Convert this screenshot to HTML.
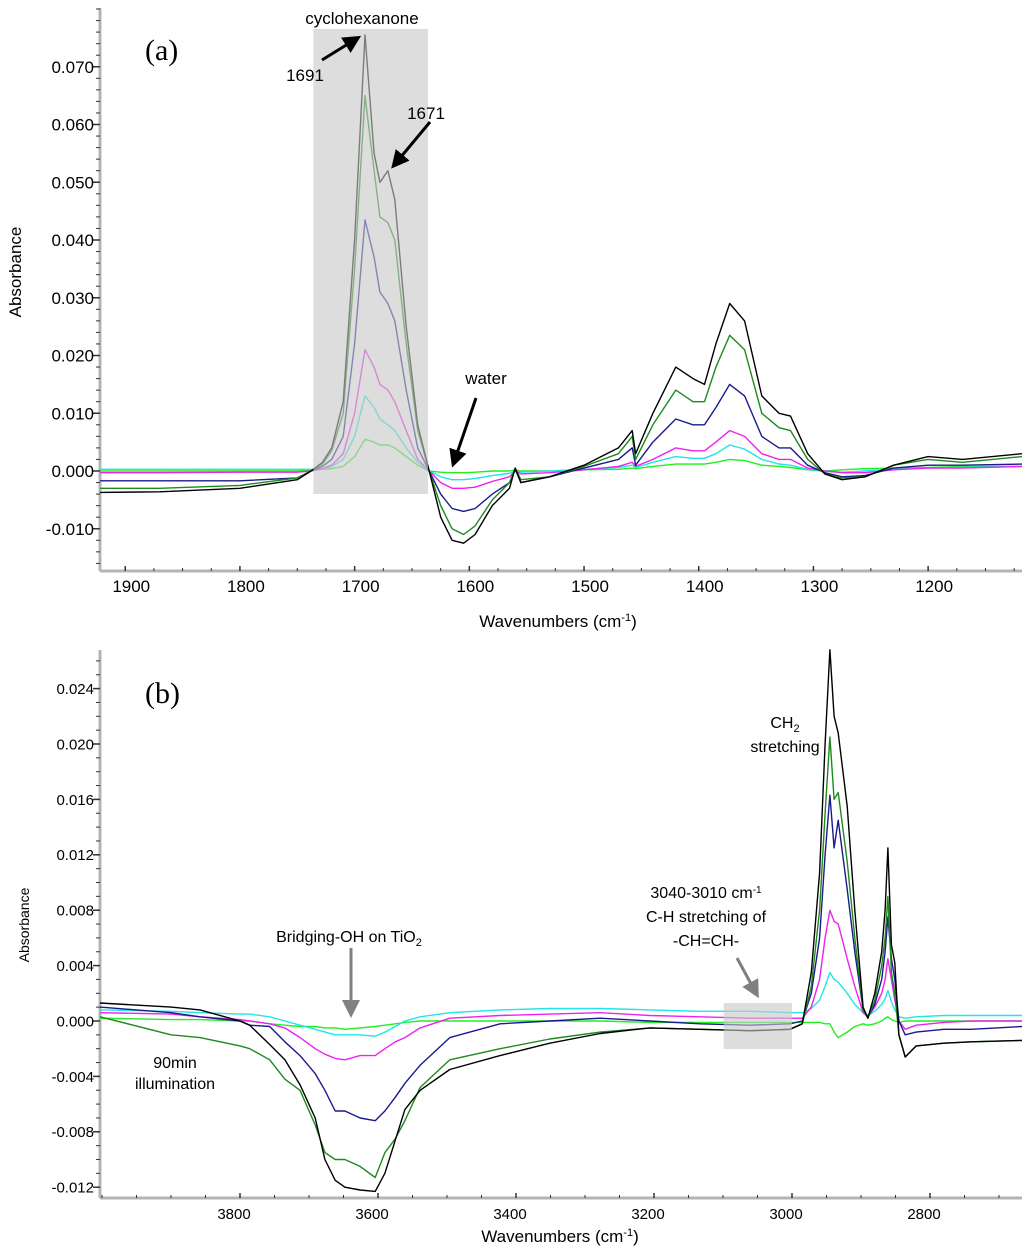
<!DOCTYPE html>
<html><head><meta charset="utf-8">
<style>
html,body{margin:0;padding:0;background:#fff;}
svg{display:block;font-family:"Liberation Sans",Arial,sans-serif;}
</style></head>
<body>
<svg id="chart" width="1024" height="1254" viewBox="0 0 1024 1254" xmlns="http://www.w3.org/2000/svg">
<defs>
<marker id="ah" markerWidth="6" markerHeight="6" refX="4" refY="3" orient="auto" markerUnits="strokeWidth"><path d="M0,0 L6,3 L0,6 z" fill="#000"/></marker>
<marker id="ahg" markerWidth="6" markerHeight="6" refX="4" refY="3" orient="auto" markerUnits="strokeWidth"><path d="M0,0 L6,3 L0,6 z" fill="#808080"/></marker>
</defs>
<g id="panelA"></g>
<g id="panelB"></g>

<!-- Panel a annotations -->
<text x="145" y="60" font-family="Liberation Serif, serif" font-size="30">(a)</text>
<text x="362" y="24" font-size="17" text-anchor="middle">cyclohexanone</text>
<text x="305" y="81" font-size="17" text-anchor="middle">1691</text>
<line x1="322" y1="60" x2="356" y2="39" stroke="#000" stroke-width="3" marker-end="url(#ah)"/>
<text x="426" y="119" font-size="17" text-anchor="middle">1671</text>
<line x1="430" y1="122" x2="395" y2="164" stroke="#000" stroke-width="3" marker-end="url(#ah)"/>
<text x="486" y="384" font-size="17" text-anchor="middle">water</text>
<line x1="476" y1="398" x2="454" y2="462" stroke="#000" stroke-width="3" marker-end="url(#ah)"/>
<text transform="translate(21,272) rotate(-90)" font-size="17" text-anchor="middle">Absorbance</text>
<text x="558" y="627" font-size="17" text-anchor="middle">Wavenumbers (cm<tspan baseline-shift="super" font-size="11">-1</tspan>)</text>

<!-- Panel b annotations -->
<text x="145" y="703" font-family="Liberation Serif, serif" font-size="30">(b)</text>
<text x="785" y="728" font-size="16" text-anchor="middle">CH<tspan font-size="11" dy="4">2</tspan></text>
<text x="785" y="752" font-size="16" text-anchor="middle">stretching</text>
<text x="706" y="898" font-size="16" text-anchor="middle">3040-3010 cm<tspan baseline-shift="super" font-size="10">-1</tspan></text>
<text x="706" y="922" font-size="16" text-anchor="middle">C-H stretching of</text>
<text x="706" y="946" font-size="16" text-anchor="middle">-CH=CH-</text>
<line x1="737" y1="958" x2="756" y2="993" stroke="#808080" stroke-width="3" marker-end="url(#ahg)"/>
<text x="349" y="942" font-size="16" text-anchor="middle">Bridging-OH on TiO<tspan font-size="11" dy="4">2</tspan></text>
<line x1="351" y1="948" x2="351" y2="1012" stroke="#808080" stroke-width="3" marker-end="url(#ahg)"/>
<text x="175" y="1068" font-size="16" text-anchor="middle">90min</text>
<text x="175" y="1089" font-size="16" text-anchor="middle">illumination</text>
<text transform="translate(29,925) rotate(-90)" font-size="14" text-anchor="middle">Absorbance</text>
<text x="560" y="1242" font-size="17" text-anchor="middle">Wavenumbers (cm<tspan baseline-shift="super" font-size="11">-1</tspan>)</text>
</svg>

<script>
// ---------- Panel (a) data ----------
const aWavenumbers = [1927,1870,1800,1750,1738,1728,1720,1710,1700,1691,1683,1678,1671,1665,1655,1645,1635,1625,1615,1605,1595,1580,1565,1560,1555,1530,1500,1470,1458,1455,1440,1420,1405,1395,1385,1373,1360,1345,1330,1320,1305,1290,1275,1255,1230,1200,1170,1110];
const aBlack = [-0.0037,-0.0036,-0.003,-0.0015,0.0,0.0015,0.004,0.012,0.040,0.0755,0.055,0.050,0.052,0.047,0.025,0.008,0.000,-0.008,-0.012,-0.0125,-0.011,-0.006,-0.003,0.0005,-0.002,-0.001,0.001,0.004,0.007,0.003,0.010,0.018,0.016,0.015,0.022,0.029,0.026,0.013,0.010,0.0095,0.003,-0.0005,-0.0015,-0.001,0.001,0.0025,0.002,0.003];
const aGreen = [-0.003,-0.003,-0.0025,-0.0012,0.0,0.0012,0.0035,0.010,0.035,0.065,0.052,0.044,0.043,0.040,0.022,0.007,0.000,-0.006,-0.010,-0.011,-0.0095,-0.005,-0.002,0.0005,-0.0015,-0.001,0.0008,0.003,0.006,0.002,0.008,0.014,0.012,0.012,0.018,0.0235,0.021,0.010,0.0075,0.007,0.002,-0.0005,-0.0012,-0.001,0.001,0.002,0.0015,0.0025];
const aNavy = [-0.0017,-0.0017,-0.0017,-0.0012,0.0,0.0008,0.002,0.006,0.022,0.0435,0.037,0.031,0.029,0.026,0.014,0.004,0.000,-0.004,-0.0065,-0.007,-0.0065,-0.004,-0.002,0.0003,-0.002,-0.001,0.0005,0.002,0.004,0.001,0.005,0.009,0.008,0.008,0.011,0.015,0.013,0.006,0.004,0.004,0.001,-0.0003,-0.001,-0.0008,0.0005,0.001,0.001,0.0012];
const aMagenta = [-0.0003,-0.0003,-0.0002,-0.0002,0.0,0.0004,0.001,0.003,0.010,0.021,0.018,0.015,0.014,0.012,0.007,0.002,0.000,-0.002,-0.003,-0.003,-0.0028,-0.0018,-0.001,0.0,-0.0005,-0.0003,0.0002,0.0008,0.0015,0.0008,0.002,0.004,0.0035,0.0035,0.005,0.007,0.006,0.003,0.002,0.002,0.0005,0.0,-0.0003,-0.0003,0.0002,0.0005,0.0005,0.0008];
const aCyan = [0.0003,0.0003,0.0003,0.0003,0.0003,0.0004,0.0008,0.002,0.006,0.013,0.011,0.009,0.008,0.007,0.004,0.0015,0.000,-0.001,-0.0015,-0.0015,-0.0013,-0.0008,-0.0004,0.0,-0.0002,0.0,0.0003,0.0006,0.001,0.0006,0.0015,0.0025,0.0022,0.0022,0.003,0.0045,0.0038,0.002,0.0012,0.001,0.0003,0.0,-0.0002,0.0,0.0003,0.0005,0.0006,0.0008];
const aLime = [0.0,0.0,0.0,0.0,0.0002,0.0003,0.0004,0.0008,0.0025,0.0055,0.005,0.0045,0.0045,0.004,0.0025,0.001,0.000,-0.0002,-0.0003,-0.0003,-0.0002,0.0,0.0,0.0002,0.0,0.0,0.0002,0.0003,0.0005,0.0004,0.0008,0.0012,0.0012,0.0012,0.0015,0.002,0.0018,0.001,0.0008,0.0006,0.0002,0.0,0.0002,0.0004,0.0005,0.0006,0.0008,0.0008];
const aXTicks = [1900,1800,1700,1600,1500,1400,1300,1200];
const aYTicks = [0.070,0.060,0.050,0.040,0.030,0.020,0.010,0.000,-0.010];
const aYTickLabels = ["0.070","0.060","0.050","0.040","0.030","0.020","0.010","0.000","-0.010"];

// ---------- Panel (b) data ----------
const bWavenumbers = [4003,3900,3858,3800,3786,3757,3735,3713,3691,3677,3662,3648,3626,3604,3590,3575,3561,3539,3496,3423,3351,3278,3206,3133,3061,3003,2985,2972,2960,2952,2945,2939,2933,2920,2909,2897,2890,2880,2870,2865,2861,2856,2851,2845,2836,2820,2780,2740,2664];
const bBlack = [0.0013,0.001,0.0008,0.0,-0.0003,-0.0017,-0.0028,-0.0046,-0.007,-0.010,-0.0115,-0.012,-0.0122,-0.0123,-0.011,-0.0086,-0.0064,-0.005,-0.0035,-0.0025,-0.0016,-0.0009,-0.0005,-0.0006,-0.0007,-0.0006,-0.0002,0.0035,0.0107,0.020,0.0268,0.022,0.0208,0.0155,0.008,0.001,0.0002,0.002,0.005,0.008,0.0125,0.0055,0.0042,-0.001,-0.0026,-0.0018,-0.0016,-0.0015,-0.0014];
const bGreen = [0.0003,-0.001,-0.0012,-0.0018,-0.002,-0.0028,-0.0042,-0.005,-0.0075,-0.0095,-0.010,-0.010,-0.0105,-0.0113,-0.0095,-0.0085,-0.0072,-0.0048,-0.0028,-0.002,-0.0013,-0.0008,-0.0005,-0.0006,-0.0007,-0.0006,-0.0002,0.0025,0.008,0.015,0.0205,0.016,0.0165,0.0115,0.006,0.0008,0.0002,0.0015,0.004,0.006,0.009,0.0035,0.002,-0.001,-0.0026,-0.0018,-0.0016,-0.0015,-0.0014];
const bNavy = [0.001,0.0006,0.0003,0.0,-0.0003,-0.0004,-0.0015,-0.0025,-0.0038,-0.005,-0.0065,-0.0065,-0.007,-0.0072,-0.0065,-0.0055,-0.0045,-0.0032,-0.0012,-0.0002,0.0,0.0002,0.0,-0.0002,-0.0003,-0.0002,0.0,0.002,0.006,0.012,0.0163,0.0125,0.0145,0.0095,0.005,0.0008,0.0003,0.0012,0.003,0.005,0.0075,0.0045,0.003,0.0,-0.001,-0.0008,-0.0006,-0.0006,-0.0004];
const bMagenta = [0.0006,0.0005,0.0003,0.0001,0.0,-0.0002,-0.0005,-0.0012,-0.002,-0.0024,-0.0027,-0.0028,-0.0025,-0.0025,-0.002,-0.0015,-0.0012,-0.0005,0.0002,0.0004,0.0005,0.0006,0.0004,0.0003,0.0002,0.0002,0.0002,0.001,0.003,0.006,0.008,0.0072,0.007,0.0045,0.0025,0.0006,0.0003,0.001,0.002,0.003,0.0045,0.003,0.0015,0.0,-0.0006,-0.0003,-0.0001,0.0,0.0];
const bCyan = [0.0008,0.0007,0.0006,0.0005,0.0005,0.0003,0.0,-0.0003,-0.0006,-0.0008,-0.001,-0.001,-0.001,-0.0011,-0.0008,-0.0004,0.0,0.0003,0.0006,0.0008,0.0009,0.0009,0.0008,0.0007,0.0007,0.0006,0.0006,0.0009,0.0015,0.0025,0.0035,0.003,0.0028,0.002,0.0012,0.0006,0.0004,0.0007,0.0012,0.0016,0.0022,0.0014,0.0008,0.0003,0.0002,0.0003,0.0004,0.0004,0.0004];
const bLime = [0.0002,0.0001,0.0001,0.0,0.0,-0.0002,-0.0003,-0.0004,-0.0004,-0.0005,-0.0005,-0.0006,-0.0005,-0.0004,-0.0003,-0.0002,-0.0001,0.0,0.0,0.0,0.0,0.0,-0.0001,-0.0001,-0.0001,-0.0001,-0.0001,-0.0001,-0.0001,-0.0002,-0.0002,-0.0008,-0.0012,-0.0008,-0.0004,-0.0002,-0.0003,-0.0002,0.0,0.0002,0.0003,0.0001,0.0,-0.0001,0.0,0.0,0.0,0.0,0.0];
const bXTicks = [3800,3600,3400,3200,3000,2800];
const bYTicks = [0.024,0.020,0.016,0.012,0.008,0.004,0.000,-0.004,-0.008,-0.012];
const bYTickLabels = ["0.024","0.020","0.016","0.012","0.008","0.004","0.000","-0.004","-0.008","-0.012"];

const NS = "http://www.w3.org/2000/svg";
function mk(tag, attrs, parent) {
  const e = document.createElementNS(NS, tag);
  for (const k in attrs) e.setAttribute(k, attrs[k]);
  parent.appendChild(e);
  return e;
}

// axis functions
const axA = {x0:100, x1:1022, y0:8, y1:571,
  sx: w => 100 + (1922 - w) * 1.147,
  sy: v => 471 - v * 5775};
const axB = {x0:100, x1:1022, y0:650, y1:1198,
  sx: w => 240 + (3800 - w) * 0.69,
  sy: v => 1021 - v * 13850};

function drawSeries(g, ax, xs, ys, color, name) {
  const n = Math.min(xs.length, ys.length);
  let d = "";
  for (let i = 0; i < n; i++) {
    let x = Math.max(ax.x0, Math.min(ax.x1, ax.sx(xs[i])));
    d += (i ? "L" : "M") + x.toFixed(1) + "," + ax.sy(ys[i]).toFixed(1);
  }
  const p = mk("path", {d: d, fill: "none", stroke: color, "stroke-width": 1.4, "stroke-linejoin": "round"}, g);
  
  
}

function drawAxes(g, ax, xTicks, xMinorStep, yTicks, yLabels, yMinorStep, fs, labOff) {
  // y axis
  const yl = mk("line", {x1: ax.x0, y1: ax.y0, x2: ax.x0, y2: ax.y1, stroke: "#b4b4b4", "stroke-width": 3}, g);
  
  
  const xl = mk("line", {x1: ax.x0, y1: ax.y1, x2: ax.x1, y2: ax.y1, stroke: "#b4b4b4", "stroke-width": 3}, g);
  
  
  // y minor ticks
  const vTop = (ax.y0 - ax.sy(0)) / (ax.sy(1) - ax.sy(0));
  const vBot = (ax.y1 - ax.sy(0)) / (ax.sy(1) - ax.sy(0));
  for (let k = Math.ceil(vBot / yMinorStep); k * yMinorStep <= vTop; k++) {
    const y = ax.sy(k * yMinorStep);
    mk("line", {x1: ax.x0 - 4, y1: y, x2: ax.x0, y2: y, stroke: "#333", "stroke-width": 1}, g);
  }
  yTicks.forEach((v, i) => {
    const y = ax.sy(v);
    mk("line", {x1: ax.x0 - 7, y1: y, x2: ax.x0, y2: y, stroke: "#333", "stroke-width": 1.5}, g);
    const t = mk("text", {x: ax.x0 - 6, y: y + fs * 0.36, "font-size": fs, "text-anchor": "end"}, g);
    t.textContent = yLabels[i];
    
    
  });
  // x minor ticks
  for (let w = xTicks[0] + 2 * (xTicks[0] - xTicks[1]); w > xTicks[xTicks.length - 1] - 2 * (xTicks[0] - xTicks[1]); w -= xMinorStep) {
    const x = ax.sx(w);
    if (x < ax.x0 + 2 || x > ax.x1) continue;
    mk("line", {x1: x, y1: ax.y1, x2: x, y2: ax.y1 - 3, stroke: "#333", "stroke-width": 1}, g);
  }
  xTicks.forEach(w => {
    const x = ax.sx(w);
    mk("line", {x1: x, y1: ax.y1, x2: x, y2: ax.y1 - 5, stroke: "#333", "stroke-width": 1.5}, g);
    const t = mk("text", {x: x + labOff, y: ax.y1 + 21, "font-size": fs, "text-anchor": "middle"}, g);
    t.textContent = String(w);
    
    
  });
}

const gA = document.getElementById("panelA");
const gB = document.getElementById("panelB");

drawAxes(gA, axA, aXTicks, 25, aYTicks, aYTickLabels, 0.002, 17, 6);
drawSeries(gA, axA, aWavenumbers, aLime, "#22ee22", "series-a-lime");
drawSeries(gA, axA, aWavenumbers, aCyan, "#22e5e5", "series-a-cyan");
drawSeries(gA, axA, aWavenumbers, aMagenta, "#ee22ee", "series-a-magenta");
drawSeries(gA, axA, aWavenumbers, aNavy, "#1a1a8c", "series-a-navy");
drawSeries(gA, axA, aWavenumbers, aGreen, "#1e8a1e", "series-a-green");
drawSeries(gA, axA, aWavenumbers, aBlack, "#000000", "series-a-black");
const boxA = mk("rect", {x: axA.sx(1736), y: 29, width: axA.sx(1636) - axA.sx(1736), height: 465, fill: "#c8c8c8", "fill-opacity": 0.62}, gA);



drawAxes(gB, axB, bXTicks, 50, bYTicks, bYTickLabels, 0.001, 15, -6);
drawSeries(gB, axB, bWavenumbers, bLime, "#22ee22", "series-b-lime");
drawSeries(gB, axB, bWavenumbers, bCyan, "#22e5e5", "series-b-cyan");
drawSeries(gB, axB, bWavenumbers, bMagenta, "#ee22ee", "series-b-magenta");
drawSeries(gB, axB, bWavenumbers, bNavy, "#1a1a8c", "series-b-navy");
drawSeries(gB, axB, bWavenumbers, bGreen, "#1e8a1e", "series-b-green");
drawSeries(gB, axB, bWavenumbers, bBlack, "#000000", "series-b-black");
const boxB = mk("rect", {x: axB.sx(3099), y: 1003, width: axB.sx(3000) - axB.sx(3099), height: 46, fill: "#c8c8c8", "fill-opacity": 0.62}, gB);


</script>
</body></html>
